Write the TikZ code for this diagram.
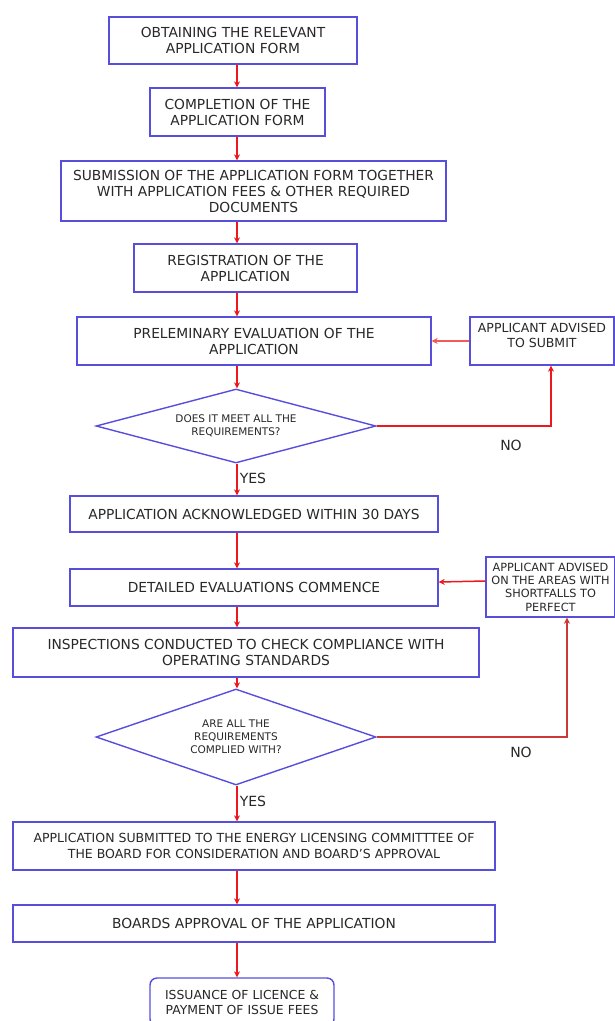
\documentclass[tikz,border=0pt]{standalone}
\usepackage{fontspec}
\setmainfont{DejaVu Sans}
\usetikzlibrary{shapes.geometric,arrows.meta}
\definecolor{boxblue}{RGB}{88,78,222}
\definecolor{flowred}{RGB}{236,24,30}
\definecolor{softred}{RGB}{242,90,90}
\definecolor{darkred}{RGB}{204,56,56}
\definecolor{txt}{RGB}{40,40,40}
\tikzset{
  stepbox/.style={draw=boxblue, line width=1.4pt, fill=white, align=center,
    inner sep=0pt, text=txt, font=\fontsize{13.8}{16}\selectfont},
  sidebox/.style={stepbox, font=\fontsize{12.5}{15}\selectfont},
  smallbox/.style={stepbox, font=\fontsize{11.3}{13.3}\selectfont},
  decision/.style={diamond, draw=boxblue, line width=1.4pt, fill=white, align=center,
    inner sep=0pt, aspect=2.5, text=txt, font=\fontsize{10.5}{13}\selectfont},
  flow/.style={draw=flowred, line width=1.5pt, -{Stealth[length=6pt,width=6pt]}},
  lbl/.style={text=txt, font=\fontsize{14}{16}\selectfont, inner sep=0pt},
}
\begin{document}
\begin{tikzpicture}[x=1pt,y=-1pt]
\useasboundingbox (0,0) rectangle (615,1021);
\fill[white] (0,0) rectangle (615,1021);
\coordinate (spine) at (237,0);

% main column
\node[stepbox, minimum width=248, minimum height=47] (b1) at (233,40.5)
  {OBTAINING THE RELEVANT\\APPLICATION FORM};
\node[stepbox, minimum width=175, minimum height=48] (b2) at (237.5,112)
  {COMPLETION OF THE\\APPLICATION FORM};
\node[stepbox, minimum width=385, minimum height=60] (b3) at (253.5,191)
  {SUBMISSION OF THE APPLICATION FORM TOGETHER\\WITH APPLICATION FEES \& OTHER REQUIRED\\DOCUMENTS};
\node[stepbox, minimum width=223, minimum height=48] (b4) at (245.5,268)
  {REGISTRATION OF THE\\APPLICATION};
\node[stepbox, minimum width=354, minimum height=48] (b5) at (254,341)
  {PRELEMINARY EVALUATION OF THE\\APPLICATION};
\node[decision, minimum width=280, minimum height=74] (d1) at (236,426)
  {DOES IT MEET ALL THE\\REQUIREMENTS?};
\node[stepbox, minimum width=368, minimum height=36] (b6) at (254,514)
  {APPLICATION ACKNOWLEDGED WITHIN 30 DAYS};
\node[stepbox, minimum width=368, minimum height=37] (b7) at (254,587.5)
  {DETAILED EVALUATIONS COMMENCE};
\node[stepbox, minimum width=466, minimum height=49] (b8) at (246,652.5)
  {INSPECTIONS CONDUCTED TO CHECK COMPLIANCE WITH\\OPERATING STANDARDS};
\node[decision, minimum width=280, minimum height=96] (d2) at (236,737)
  {ARE ALL THE\\REQUIREMENTS\\COMPLIED WITH?};
\node[stepbox, minimum width=482, minimum height=48, font=\fontsize{12.5}{15.5}\selectfont] (b9) at (254,846)
  {APPLICATION SUBMITTED TO THE ENERGY LICENSING COMMITTTEE OF\\THE BOARD FOR CONSIDERATION AND BOARD'S APPROVAL};
\node[stepbox, rounded corners=7pt, minimum width=184, minimum height=48, font=\fontsize{12.4}{15}\selectfont] (b11) at (242,1002)
  {ISSUANCE OF LICENCE \&\\PAYMENT OF ISSUE FEES};
\node[stepbox, minimum width=482, minimum height=37] (b10) at (254,923.5)
  {BOARDS APPROVAL OF THE APPLICATION};

% side boxes
\node[sidebox, minimum width=144, minimum height=48] (sa) at (542,341)
  {APPLICANT ADVISED\\TO SUBMIT\\[-3pt]};
\node[smallbox, minimum width=129, minimum height=60] (sb) at (550.5,587)
  {APPLICANT ADVISED\\ON THE AREAS WITH\\SHORTFALLS TO\\PERFECT};

% main flow
\draw[flow] (b1.south -| spine) -- (b2.north -| spine);
\draw[flow] (b2.south -| spine) -- (b3.north -| spine);
\draw[flow] (b3.south -| spine) -- (b4.north -| spine);
\draw[flow] (b4.south -| spine) -- (b5.north -| spine);
\draw[flow] (b5.south -| spine) -- (d1.north -| spine);
\draw[flow] (d1.south -| spine) -- (b6.north -| spine)
  node[lbl, pos=0.45, anchor=west, xshift=2pt] (yes1) {YES};
\draw[flow] (b6.south -| spine) -- (b7.north -| spine);
\draw[flow] (b7.south -| spine) -- (b8.north -| spine);
\draw[flow] (b8.south -| spine) -- (d2.north -| spine);
\draw[flow] (d2.south -| spine) -- (b9.north -| spine)
  node[lbl, pos=0.45, anchor=west, xshift=2pt] (yes2) {YES};
\draw[flow] (b9.south -| spine) -- (b10.north -| spine);
\draw[flow] (b10.south -| spine) -- (b11.north -| spine);

% loops back on "NO"
\draw[flow] (d1.east) -| ([xshift=9pt]sa.south);
\draw[flow, draw=softred] (sa.west) -- (b5.east);
\node[lbl] (no1) at (511,445) {NO};
\draw[flow, draw=darkred] (d2.east) -| ([xshift=16.5pt]sb.south);
\draw[flow] ([yshift=6pt]sb.west) -- ([yshift=5.5pt]b7.east);
\node[lbl] (no2) at (521,752) {NO};
\end{tikzpicture}
\end{document}
